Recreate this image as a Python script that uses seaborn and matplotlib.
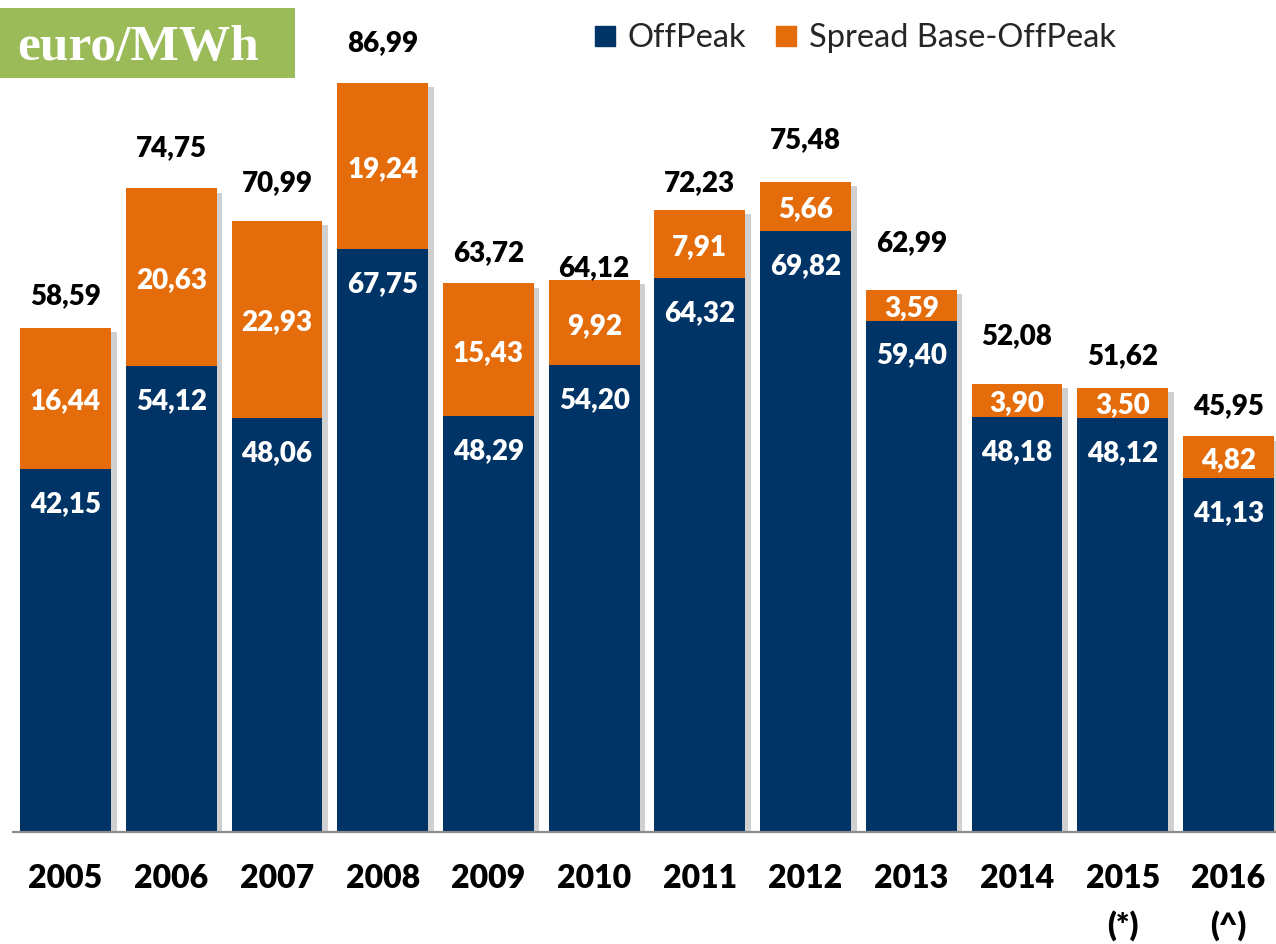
"""
Stacked bar chart: OffPeak price and Base-OffPeak spread, euro/MWh, 2005-2016.
"""

import matplotlib
matplotlib.use("Agg")
import matplotlib.pyplot as plt
import matplotlib.patheffects as pe
from matplotlib.patches import Rectangle
from matplotlib.lines import Line2D
import pandas as pd
import seaborn as sns

# Data
years = ["2005", "2006", "2007", "2008", "2009", "2010",
         "2011", "2012", "2013", "2014", "2015", "2016"]
year_notes = ["", "", "", "", "", "", "", "", "", "", "(*)", "(^)"]
offpeak = [42.15, 54.12, 48.06, 67.75, 48.29, 54.20,
           64.32, 69.82, 59.40, 48.18, 48.12, 41.13]
spread = [16.44, 20.63, 22.93, 19.24, 15.43, 9.92,
          7.91, 5.66, 3.59, 3.90, 3.50, 4.82]
totals = [58.59, 74.75, 70.99, 86.99, 63.72, 64.12,
          72.23, 75.48, 62.99, 52.08, 51.62, 45.95]

# gap (pixels) between bar top and the baseline of its total label
total_label_gap = [23, 32, 30, 32, 22, 4, 19, 34, 39, 39, 23, 22]

NAVY = "#003366"
ORANGE = "#E46C0A"
GREEN = "#9BBB59"

sns.set_theme(style="white")
plt.rcParams["font.family"] = ["Lato", "DejaVu Sans"]

df = pd.DataFrame({"year": years, "offpeak": offpeak, "spread": spread})
df["total"] = df["offpeak"] + df["spread"]

fig = plt.figure(figsize=(12.76, 9.44), dpi=100)
ax = fig.add_axes([13 / 1276, 1 - 832 / 944, 1 - 13 / 1276, 832 / 944])

shadow = [pe.SimplePatchShadow(offset=(4, -3), shadow_rgbFace="#8a8a8a", alpha=0.4), pe.Normal()]

sns.barplot(data=df, x="year", y="total", color=ORANGE, width=0.86,
            saturation=1, linewidth=0, ax=ax, zorder=2)
for bar in ax.patches:
    bar.set_path_effects(shadow)
sns.barplot(data=df, x="year", y="offpeak", color=NAVY, width=0.86,
            saturation=1, linewidth=0, ax=ax, zorder=3)

ax.set_ylim(0, 832 / 8.61)
ax.set_xlim(-0.497, 11.45)
sns.despine(ax=ax, left=True, top=True, right=True)
ax.spines["bottom"].set_color("#8c8c8c")
ax.spines["bottom"].set_linewidth(1.6)
ax.spines["bottom"].set_zorder(5)
ax.set_yticks([])
ax.set_xlabel("")
ax.set_ylabel("")

ax.set_xticks(range(len(years)))
labels = [y if not n else f"{y}\n{n}" for y, n in zip(years, year_notes)]
ax.set_xticklabels(labels, fontsize=23, fontweight="heavy", color="black")
for t in ax.get_xticklabels():
    t.set_linespacing(1.65)
ax.tick_params(axis="x", length=0, pad=23)

label_kw = dict(ha="center", va="baseline", fontsize=20, fontweight="heavy",
                textcoords="offset pixels", annotation_clip=False)
for i in range(len(years)):
    op, sp, tot = df.loc[i, "offpeak"], df.loc[i, "spread"], totals[i]
    # OffPeak value near top of navy segment
    ax.annotate(f"{op:.2f}".replace(".", ","), (i, op), xytext=(0, -43),
                color="white", zorder=6, **label_kw)
    # Spread value centered in orange segment
    ax.annotate(f"{sp:.2f}".replace(".", ","), (i, op + sp / 2), xytext=(0, -11),
                color="white", zorder=6, **label_kw)
    # total above the bar
    ax.annotate(f"{tot:.2f}".replace(".", ","), (i, op + sp),
                xytext=(0, total_label_gap[i]), color="black", zorder=6, **label_kw)

# unit box top left
fig.patches.append(Rectangle((0, 1 - 78 / 944), 295 / 1276, 70 / 944,
                             transform=fig.transFigure, facecolor=GREEN,
                             edgecolor="none", zorder=10))
fig.text(17 / 1276, 1 - 60 / 944, "euro/MWh", family=["Liberation Serif", "DejaVu Serif"],
         fontsize=37, fontweight="bold", color="white", ha="left", va="baseline", zorder=11)

handles = [Line2D([], [], marker="s", linestyle="none", markersize=14,
                  markerfacecolor=NAVY, markeredgecolor=NAVY, label="OffPeak"),
           Line2D([], [], marker="s", linestyle="none", markersize=14,
                  markerfacecolor=ORANGE, markeredgecolor=ORANGE, label="Spread Base-OffPeak")]
fig.legend(handles=handles, loc="center left", bbox_to_anchor=(592 / 1276, 1 - 38 / 944),
           ncol=2, frameon=False, fontsize=23.5, handlelength=0.8, handletextpad=0.3,
           columnspacing=0.8, borderaxespad=0, borderpad=0)

fig.savefig("out.png", dpi=100, facecolor="white")
plt.close(fig)
